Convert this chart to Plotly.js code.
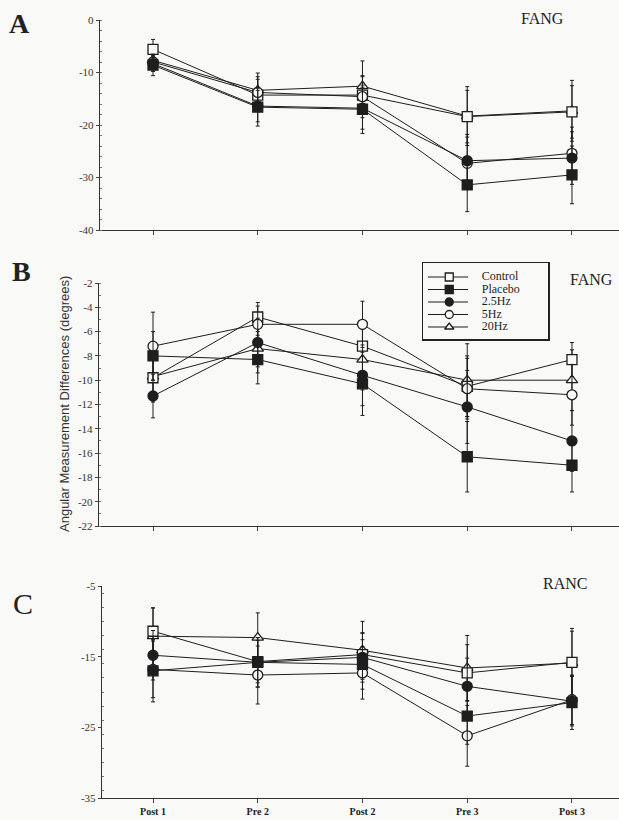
<!DOCTYPE html>
<html>
<head>
<meta charset="utf-8">
<script src="https://cdn.plot.ly/plotly-3.0.1.min.js"></script>
<style>
html,body{margin:0;padding:0;background:#f9f9f8;}
#chart{width:619px;height:820px;}
</style>
</head>
<body>
<div id="chart"></div>
<script>
// ---------- data ----------
var categories = ['Post 1', 'Pre 2', 'Post 2', 'Pre 3', 'Post 3'];
var seriesNames = ['Control', 'Placebo', '2.5Hz', '5Hz', '20Hz'];

// Panel A (FANG)
var fangA_control = [-5.6, -14.3, -14.3, -18.4, -17.5];
var fangA_placebo = [-8.6, -16.6, -17.0, -31.4, -29.5];
var fangA_hz25    = [-8.3, -16.4, -16.8, -26.8, -26.3];
var fangA_hz5     = [-8.0, -13.8, -14.6, -27.3, -25.4];
var fangA_hz20    = [-7.7, -13.4, -12.6, -18.3, -17.3];
var fangA_err_control = [1.9, 3.0, 3.5, 5.0, 5.0];
var fangA_err_placebo = [2.0, 3.6, 4.6, 5.1, 5.5];
var fangA_err_hz25    = [1.5, 3.0, 4.0, 5.0, 5.0];
var fangA_err_hz5     = [1.5, 3.0, 4.0, 5.0, 5.0];
var fangA_err_hz20    = [1.5, 3.3, 4.8, 5.6, 5.8];

// Panel B (FANG)
var fangB_control = [-9.8, -4.8, -7.2, -10.5, -8.3];
var fangB_placebo = [-8.0, -8.3, -10.3, -16.3, -17.0];
var fangB_hz25    = [-11.3, -6.9, -9.6, -12.2, -15.0];
var fangB_hz5     = [-7.2, -5.4, -5.4, -10.7, -11.2];
var fangB_hz20    = [-9.7, -7.4, -8.3, -10.0, -10.0];
var fangB_err_control = [2.0, 1.2, 2.0, 2.5, 1.4];
var fangB_err_placebo = [2.0, 2.0, 2.6, 2.9, 2.2];
var fangB_err_hz25    = [1.8, 2.0, 2.5, 3.0, 2.5];
var fangB_err_hz5     = [2.8, 1.5, 1.9, 2.5, 2.5];
var fangB_err_hz20    = [2.0, 2.0, 2.5, 3.0, 2.5];

// Panel C (RANC)
var rancC_control = [-11.4, -15.7, -14.7, -17.3, -15.8];
var rancC_placebo = [-17.0, -15.8, -16.1, -23.4, -21.5];
var rancC_hz25    = [-14.8, -15.8, -15.1, -19.2, -21.3];
var rancC_hz5     = [-16.8, -17.6, -17.3, -26.2, -21.1];
var rancC_hz20    = [-12.1, -12.3, -14.1, -16.6, -15.9];
var rancC_err_control = [3.3, 3.0, 3.0, 4.0, 4.8];
var rancC_err_placebo = [4.4, 3.5, 3.5, 4.0, 3.8];
var rancC_err_hz25    = [3.5, 3.5, 3.5, 4.0, 3.5];
var rancC_err_hz5     = [4.0, 4.1, 3.7, 4.3, 3.5];
var rancC_err_hz20    = [4.0, 3.5, 4.1, 4.6, 4.5];

// tick labels
var yTicksA = [0, -10, -20, -30, -40];
var yTickTextA = ['0', '-10', '-20', '-30', '-40'];
var yTicksB = [-2, -4, -6, -8, -10, -12, -14, -16, -18, -20, -22];
var yTickTextB = ['-2', '-4', '-6', '-8', '-10', '-12', '-14', '-16', '-18', '-20', '-22'];
var yTicksC = [-5, -15, -25, -35];
var yTickTextC = ['-5', '-15', '-25', '-35'];

// ---------- styling ----------
var W = 619, H = 820;
function px(x) { return x / W; }
function py(y) { return 1 - y / H; }
var ink = '#1e1e1e';
var bg = '#f9f9f8';
var styles = [
  {symbol: 'square', color: bg},
  {symbol: 'square', color: ink},
  {symbol: 'circle', color: ink},
  {symbol: 'circle', color: bg},
  {symbol: 'triangle-up', color: bg}
];
var xIdx = categories.map(function (c, i) { return i; });

var panels = [
  {xa: 'x', ya: 'y', vals: [fangA_control, fangA_placebo, fangA_hz25, fangA_hz5, fangA_hz20],
   errs: [fangA_err_control, fangA_err_placebo, fangA_err_hz25, fangA_err_hz5, fangA_err_hz20]},
  {xa: 'x2', ya: 'y2', vals: [fangB_control, fangB_placebo, fangB_hz25, fangB_hz5, fangB_hz20],
   errs: [fangB_err_control, fangB_err_placebo, fangB_err_hz25, fangB_err_hz5, fangB_err_hz20]},
  {xa: 'x3', ya: 'y3', vals: [rancC_control, rancC_placebo, rancC_hz25, rancC_hz5, rancC_hz20],
   errs: [rancC_err_control, rancC_err_placebo, rancC_err_hz25, rancC_err_hz5, rancC_err_hz20]}
];

var traces = [];
panels.forEach(function (p) {
  [4, 0, 3, 2, 1].forEach(function (s) {
    traces.push({
      type: 'scatter', mode: 'lines+markers', xaxis: p.xa, yaxis: p.ya,
      x: xIdx, y: p.vals[s], name: seriesNames[s], showlegend: false,
      line: {color: ink, width: 1},
      marker: {symbol: styles[s].symbol, size: 10, color: styles[s].color,
               line: {color: ink, width: 1.3}},
      error_y: {type: 'data', array: p.errs[s], visible: true, color: ink, thickness: 1, width: 2}
    });
  });
});

// compact legend box in panel B, built from the series names and styles
var legRows = seriesNames.map(function (n, i) { return i; });
seriesNames.forEach(function (n, i) {
  traces.push({
    type: 'scatter', mode: 'lines', xaxis: 'x4', yaxis: 'y4',
    x: [0.04, 0.36], y: [legRows[i], legRows[i]], showlegend: false, hoverinfo: 'skip',
    line: {color: ink, width: 1}
  });
});
traces.push({
  type: 'scatter', mode: 'markers', xaxis: 'x4', yaxis: 'y4',
  x: legRows.map(function () { return 0.21; }), y: legRows,
  showlegend: false, hoverinfo: 'skip',
  marker: {symbol: styles.map(function (s) { return s.symbol; }), size: 8,
           color: styles.map(function (s) { return s.color; }),
           line: {color: ink, width: 1.3}}
});
traces.push({
  type: 'scatter', mode: 'text', xaxis: 'x4', yaxis: 'y4',
  x: legRows.map(function () { return 0.47; }), y: legRows,
  text: seriesNames, textposition: 'middle right', showlegend: false, hoverinfo: 'skip',
  textfont: {family: 'Liberation Serif', size: 12, color: ink}
});

var tickFont = {family: 'Liberation Serif', size: 11, color: '#333'};

function xAxis(domainLeft, anchor, showLabels) {
  var left = (domainLeft - 153) / 104.75;
  return {
    domain: [px(domainLeft), 1], anchor: anchor, range: [left, 4.449],
    tickvals: xIdx, ticktext: categories, showticklabels: showLabels,
    ticks: 'outside', ticklen: 4, tickcolor: '#444', tickwidth: 1,
    showline: true, linecolor: '#333', linewidth: 1.2,
    showgrid: false, zeroline: false,
    tickfont: {family: 'Liberation Serif', size: 10, color: '#222', weight: 'bold'}
  };
}
function yAxis(top, bottom, range, vals, text, anchor, minorStep) {
  return {
    domain: [py(bottom), py(top)], anchor: anchor, range: range,
    tickvals: vals, ticktext: text,
    ticks: 'outside', ticklen: 3, tickcolor: '#444', tickwidth: 1,
    showline: true, linecolor: '#333', linewidth: 1.2,
    showgrid: false, zeroline: false, tickfont: tickFont,
    minor: {dtick: minorStep, ticks: 'inside', ticklen: 2, tickcolor: '#777', showgrid: false}
  };
}
function label(text, x, y, size, family) {
  return {text: text, x: px(x), y: py(y), xref: 'paper', yref: 'paper', showarrow: false,
          xanchor: 'center', yanchor: 'middle',
          font: {family: family || 'Liberation Serif', size: size, color: '#222'}};
}

var yTitle = label('Angular Measurement Differences (degrees)', 64, 404, 13, 'Liberation Sans');
yTitle.textangle = -90;
yTitle.font.color = '#333';

var layout = {
  width: W, height: H,
  margin: {l: 0, r: 0, t: 0, b: 0},
  paper_bgcolor: bg, plot_bgcolor: 'rgba(0,0,0,0)',
  showlegend: false,
  xaxis: xAxis(100, 'y', false),
  yaxis: yAxis(20, 230, [-40, 0], yTicksA, yTickTextA, 'x', 2),
  xaxis2: xAxis(99, 'y2', false),
  yaxis2: yAxis(283, 526, [-22, -2], yTicksB, yTickTextB, 'x2', 1),
  xaxis3: xAxis(102, 'y3', true),
  yaxis3: yAxis(586, 798, [-35, -5], yTicksC, yTickTextC, 'x3', 2),
  xaxis4: {domain: [px(423), px(548)], anchor: 'y4', range: [0, 1],
           showline: true, mirror: true, linecolor: '#222', linewidth: 1.5,
           showticklabels: false, ticks: '', showgrid: false, zeroline: false, fixedrange: true},
  yaxis4: {domain: [py(339), py(263)], anchor: 'x4', range: [4.96, -1.12],
           showline: true, mirror: true, linecolor: '#222', linewidth: 1.5,
           showticklabels: false, ticks: '', showgrid: false, zeroline: false, fixedrange: true},
  annotations: [
    label('<b>A</b>', 19, 23, 28),
    label('<b>B</b>', 21, 271, 28),
    label('C', 23, 603, 30),
    label('FANG', 542, 18, 16),
    label('FANG', 591, 279, 16),
    label('RANC', 565, 583, 16),
    yTitle
  ]
};

Plotly.newPlot('chart', traces, layout, {staticPlot: true, displayModeBar: false});
</script>
</body>
</html>
